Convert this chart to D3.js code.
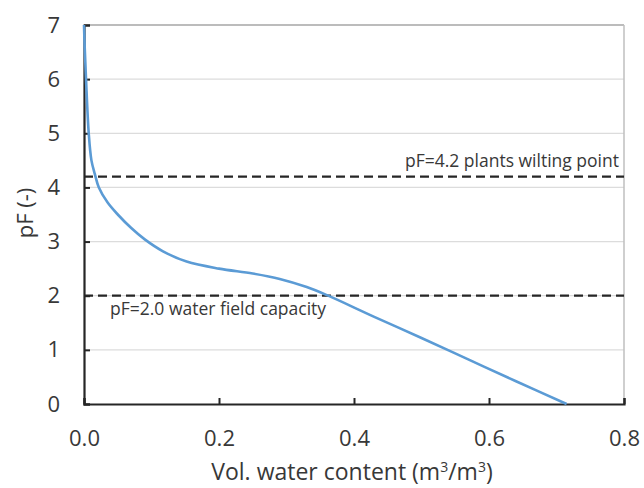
<!DOCTYPE html>
<html><head><meta charset="utf-8">
<script src="https://cdn.jsdelivr.net/npm/d3@7"></script>
<style>body{margin:0;background:#fff}svg{display:block}text{font-family:"Open Sans","Noto Sans",sans-serif}</style>
</head><body><svg id="c" width="644" height="488"></svg>
<script>
const theta = [0, 0.001, 0.003, 0.007, 0.011, 0.016, 0.022, 0.035, 0.050, 0.070, 0.090, 0.117, 0.152, 0.20, 0.25, 0.29, 0.33, 0.36, 0.43, 0.50, 0.57, 0.64, 0.715];
const pF    = [7, 6.6, 6.0, 5.0, 4.5, 4.25, 4.0, 3.72, 3.50, 3.25, 3.04, 2.82, 2.63, 2.50, 2.41, 2.31, 2.16, 2.01, 1.61, 1.22, 0.82, 0.42, 0];
const xTicks = [0, 0.2, 0.4, 0.6, 0.8];
const yTicks = [0, 1, 2, 3, 4, 5, 6, 7];
const refLevels = [4.2, 2.0];
const refLabels = ["pF=4.2 plants wilting point", "pF=2.0 water field capacity"];

const svg = d3.select("#c");
const L = 84, R = 624, T = 25, B = 404;
const x = d3.scaleLinear().domain([0, 0.8]).range([L, R]);
const y = d3.scaleLinear().domain([0, 7]).range([B, T]);
const txt = "#383838";
const ff = '"Open Sans",sans-serif';

// gridlines
svg.append("g").selectAll("line").data(yTicks.filter(d => d > 0 && d < 7)).join("line")
  .attr("x1", L).attr("x2", R).attr("y1", d => y(d)).attr("y2", d => y(d))
  .attr("stroke", "#dcdcdc").attr("stroke-width", 1.2);
// top & right border
svg.append("line").attr("x1", L).attr("x2", R).attr("y1", y(7)).attr("y2", y(7)).attr("stroke", "#a6a6a6").attr("stroke-width", 1.5);
svg.append("line").attr("x1", R).attr("x2", R).attr("y1", T).attr("y2", B).attr("stroke", "#bfbfbf").attr("stroke-width", 1.5);

// axes
const xAxis = d3.axisBottom(x).tickValues(xTicks).tickSize(-6).tickPadding(26).tickFormat(d3.format(".1f"));
const yAxis = d3.axisLeft(y).tickValues(yTicks).tickSize(-6).tickPadding(24).tickFormat(d3.format("d"));
const gx = svg.append("g").attr("transform", `translate(0,${B})`).call(xAxis);
const gy = svg.append("g").attr("transform", `translate(${L},0)`).call(yAxis);
[gx, gy].forEach(g => {
  g.select(".domain").attr("stroke", "#262626").attr("stroke-width", 2.2);
  g.selectAll(".tick line").attr("stroke", "#262626").attr("stroke-width", 2);
  g.selectAll(".tick text").attr("fill", txt).style("font-size", "22px").style("font-family", ff);
});

// reference dashed lines
svg.append("g").selectAll("line").data(refLevels).join("line")
  .attr("x1", L).attr("x2", R).attr("y1", d => y(d)).attr("y2", d => y(d))
  .attr("stroke", "#262626").attr("stroke-width", 2.3).attr("stroke-dasharray", "9,5");

// curve
const pts = theta.map((t, i) => [t, pF[i]]);
svg.append("path").datum(pts)
  .attr("d", d3.line().x(d => x(d[0])).y(d => y(d[1])).curve(d3.curveCatmullRom.alpha(0.5)))
  .attr("fill", "none").attr("stroke", "#5b9bd5").attr("stroke-width", 2.6);

// annotation labels
svg.append("text").attr("x", 619).attr("y", y(refLevels[0]) - 10).attr("text-anchor", "end")
  .attr("fill", txt).style("font-size", "17.5px").text(refLabels[0]);
svg.append("text").attr("x", 110).attr("y", y(refLevels[1]) + 19).attr("text-anchor", "start")
  .attr("fill", txt).style("font-size", "17.5px").text(refLabels[1]);

// axis titles
const xt = svg.append("text").attr("x", 352).attr("y", 480).attr("text-anchor", "middle")
  .attr("fill", txt).style("font-size", "23px");
xt.append("tspan").text("Vol. water content (m");
xt.append("tspan").attr("dy", -8).style("font-size", "14px").text("3");
xt.append("tspan").attr("dy", 8).text("/m");
xt.append("tspan").attr("dy", -8).style("font-size", "14px").text("3");
xt.append("tspan").attr("dy", 8).text(")");
svg.append("text").attr("transform", "translate(33,213) rotate(-90)").attr("text-anchor", "middle")
  .attr("fill", txt).style("font-size", "22px").text("pF (-)");
</script></body></html>
